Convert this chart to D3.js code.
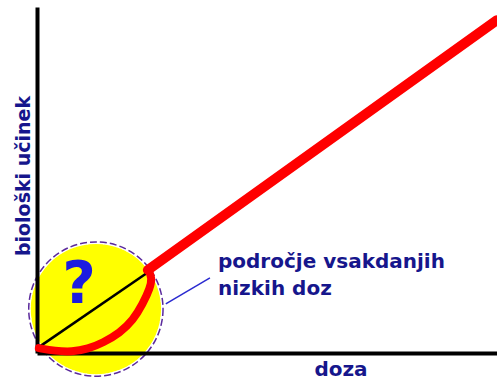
<!DOCTYPE html>
<html>
<head>
<meta charset="utf-8">
<script src="https://cdn.jsdelivr.net/npm/d3@7"></script>
<style>
  html, body { margin: 0; padding: 0; background: #fff; }
  svg { display: block; }
  .lbl { font-family: "DejaVu Sans", sans-serif; font-weight: bold; fill: #16168c; }
</style>
</head>
<body>
<div id="chart"></div>
<script>
// podatki (enote: doza 0-100, učinek 0-100)
const lowDose   = [0.4, 3.9, 7.6, 11.1, 14.3, 18.0, 20.9, 23.0, 24.6, 25.0, 24.3];
const lowEffect = [1.4, 0.6, 0.3, 1.2, 2.9, 5.8, 9.5, 14.2, 18.8, 21.7, 23.7];
const highDose   = [24.1, 100];
const highEffect = [24.0, 96.2];
const linearDose   = [0.4, 23.9];   // tanka črna linearna ekstrapolacija
const linearEffect = [1.7, 23.1];
const zoneCenter = [12.8, 12.7];    // središče rumenega kroga
const zoneRadius = 14.6;
const pointerDose   = [28.0, 37.6];
const pointerEffect = [14.2, 21.7];
const zoneLabel = ['področje vsakdanjih', 'nizkih doz'];
const xLabel = 'doza';
const yLabel = 'biološki učinek';

const width = 497, height = 381;

const svg = d3.select('#chart')
  .append('svg')
  .attr('width', width)
  .attr('height', height);

const x = d3.scaleLinear().domain([0, 100]).range([37, 497]);
const y = d3.scaleLinear().domain([0, 100]).range([353, 7]);

const zip = (a, b) => a.map((d, i) => [d, b[i]]);
const line = d3.line().x(d => x(d[0])).y(d => y(d[1]));

// rumeni krog - področje nizkih doz
const r = x(zoneRadius) - x(0);
const cx = x(zoneCenter[0]), cy = y(zoneCenter[1]);
svg.append('circle')
  .attr('cx', cx).attr('cy', cy)
  .attr('r', r - 2)
  .attr('fill', '#ffff00');
svg.append('circle')
  .attr('cx', cx).attr('cy', cy)
  .attr('r', r - 1.5)
  .attr('fill', 'none')
  .attr('stroke', '#fff')
  .attr('stroke-width', 1)
  .attr('stroke-dasharray', '1 3');
svg.append('circle')
  .attr('cx', cx).attr('cy', cy)
  .attr('r', r)
  .attr('fill', 'none')
  .attr('stroke', '#5b2a9c')
  .attr('stroke-width', 1.5)
  .attr('stroke-dasharray', '7 3');

// vprašaj
svg.append('text')
  .attr('class', 'lbl')
  .attr('x', 79)
  .attr('y', 303)
  .attr('text-anchor', 'middle')
  .style('font-size', '58px')
  .style('fill', '#1c1ce0')
  .text('?');

// osi
svg.append('g')
  .attr('transform', `translate(${x(0)},0)`)
  .call(d3.axisLeft(y).ticks(0).tickSizeOuter(0))
  .call(g => g.select('.domain').attr('stroke', '#000').attr('stroke-width', 4));
svg.append('g')
  .attr('transform', `translate(0,${y(0)})`)
  .call(d3.axisBottom(x).ticks(0).tickSizeOuter(0))
  .call(g => g.select('.domain').attr('stroke', '#000').attr('stroke-width', 4));

// tanka črna linija
svg.append('path')
  .datum(zip(linearDose, linearEffect))
  .attr('d', line)
  .attr('fill', 'none')
  .attr('stroke', '#000')
  .attr('stroke-width', 2.5);

// rdeča krivulja
svg.append('path')
  .datum(zip(lowDose, lowEffect))
  .attr('d', line.curve(d3.curveBasis))
  .attr('fill', 'none')
  .attr('stroke', '#ff0000')
  .attr('stroke-width', 8)
  .attr('stroke-linecap', 'round');
line.curve(d3.curveLinear);
svg.append('path')
  .datum(zip(highDose, highEffect))
  .attr('d', line)
  .attr('fill', 'none')
  .attr('stroke', '#ff0000')
  .attr('stroke-width', 10)
  .attr('stroke-linecap', 'round');

// kazalec
svg.append('path')
  .datum(zip(pointerDose, pointerEffect))
  .attr('d', line)
  .attr('fill', 'none')
  .attr('stroke', '#2a2ad0')
  .attr('stroke-width', 1.5);

// napisi
svg.append('text')
  .attr('class', 'lbl')
  .attr('x', 218)
  .attr('y', 268)
  .style('font-size', '20px')
  .selectAll('tspan')
  .data(zoneLabel)
  .join('tspan')
  .attr('x', 218)
  .attr('dy', (d, i) => i ? 27 : 0)
  .text(d => d);

svg.append('text')
  .attr('class', 'lbl')
  .attr('x', 341)
  .attr('y', 376)
  .attr('text-anchor', 'middle')
  .style('font-size', '20px')
  .text(xLabel);

svg.append('text')
  .attr('class', 'lbl')
  .attr('transform', 'translate(30,176) rotate(-90)')
  .attr('text-anchor', 'middle')
  .style('font-size', '19px')
  .text(yLabel);
</script>
</body>
</html>
